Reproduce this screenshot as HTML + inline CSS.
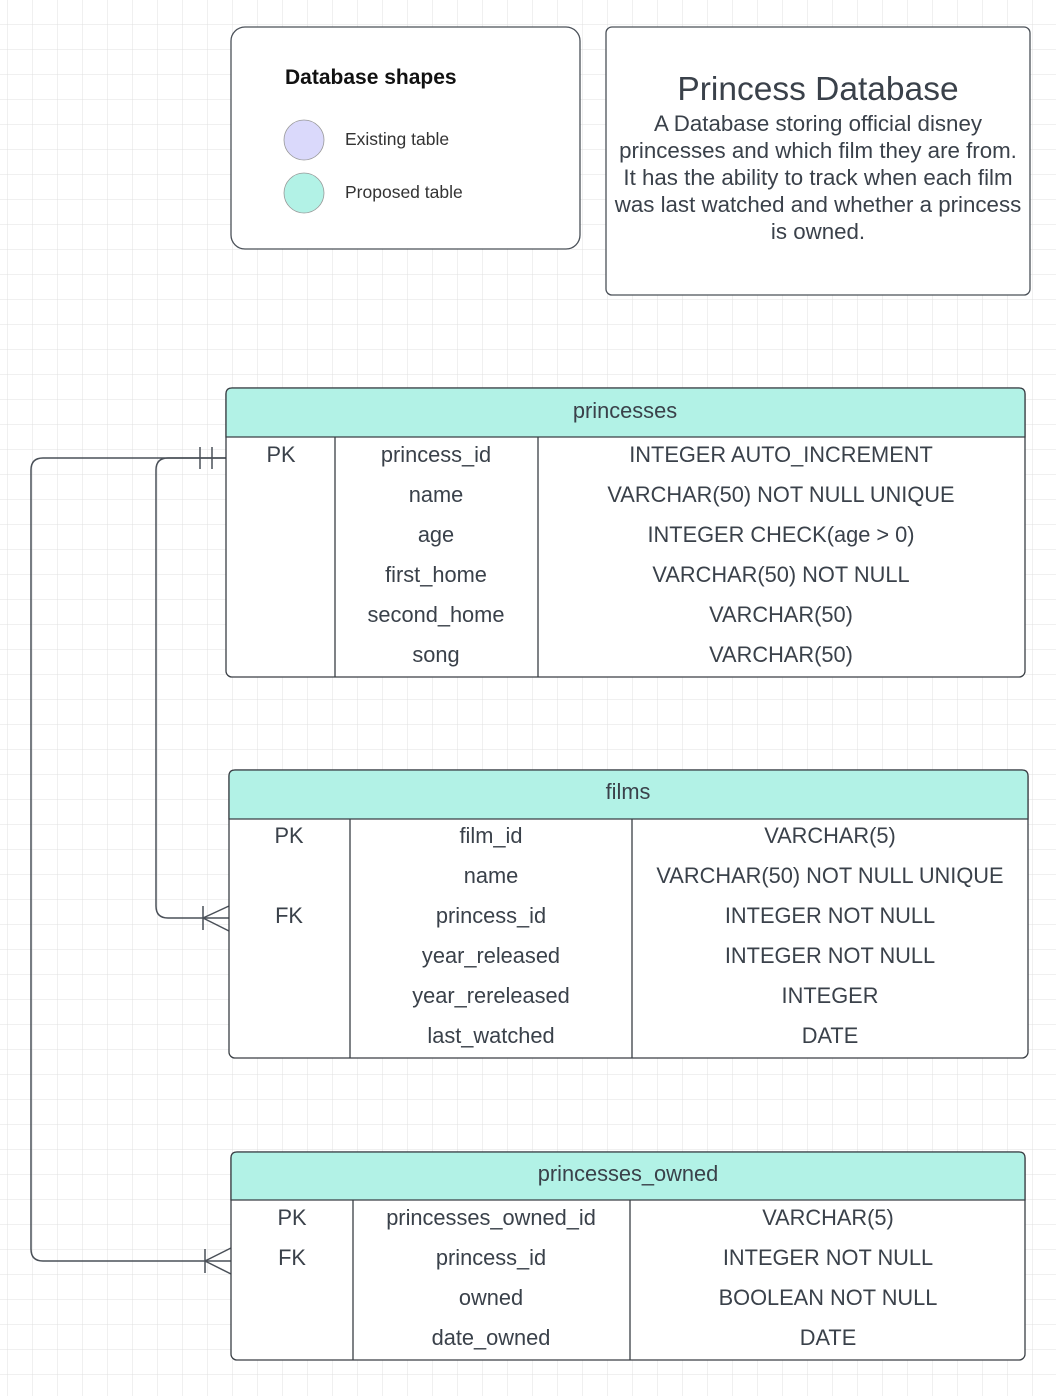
<!DOCTYPE html>
<html><head><meta charset="utf-8"><style>
html,body{margin:0;padding:0;background:#fff;}
svg{display:block;font-family:"Liberation Sans",Arial,sans-serif;}
</style></head><body>
<svg width="1056" height="1396" viewBox="0 0 1056 1396" xmlns="http://www.w3.org/2000/svg">
<defs>
<pattern id="g" x="7" y="24" width="25" height="25" patternUnits="userSpaceOnUse">
<path d="M0 0H25M0 0V25" stroke="#e0e0e0" stroke-width="1" fill="none"/>
</pattern>
</defs>
<rect width="1056" height="1396" fill="url(#g)"/>

<rect x="231" y="27" width="349" height="222" rx="14" fill="#fff" stroke="#4a5058" stroke-width="1.3"/>
<text x="285" y="84" font-size="21" font-weight="bold" fill="#111">Database shapes</text>
<circle cx="304" cy="140" r="20" fill="#dad9fb" stroke="#999" stroke-width="0.8"/>
<circle cx="304" cy="193" r="20" fill="#b2f2e6" stroke="#999" stroke-width="0.8"/>
<text x="345" y="145" font-size="17.5" fill="#333">Existing table</text>
<text x="345" y="198" font-size="17.5" fill="#333">Proposed table</text>

<rect x="606" y="27" width="424" height="268" rx="6" fill="#fff" stroke="#4a5058" stroke-width="1.3"/>
<g fill="#3a414a" text-anchor="middle">
<text x="818" y="100" font-size="33.5">Princess Database</text>
<text x="818" y="131" font-size="22.3">A Database storing official disney</text>
<text x="818" y="158" font-size="22.3">princesses and which film they are from.</text>
<text x="818" y="185" font-size="22.3">It has the ability to track when each film</text>
<text x="818" y="212" font-size="22.3">was last watched and whether a princess</text>
<text x="818" y="239" font-size="22.3">is owned.</text>
</g>

<g fill="none" stroke="#4a5058" stroke-width="1.5">
<path d="M226 458H43Q31 458 31 470V1249Q31 1261 43 1261H231"/>
<path d="M226 458H168Q156 458 156 470V906Q156 918 168 918H229"/>
<path d="M200 447V469M212 447V469"/>
<path d="M203 906V930M203 918L229 906M203 918L229 931"/>
<path d="M205 1249V1273M205 1261L231 1248M205 1261L231 1274"/>
</g>

<g font-size="21.8" fill="#3a414a" text-anchor="middle">
<rect x="226" y="388" width="799" height="289" rx="6" fill="#fff" stroke="#3a3f45" stroke-width="1.3"/>
<path d="M226 437V394Q226 388 232 388H1019Q1025 388 1025 394V437Z" fill="#b2f2e6" stroke="#3a3f45" stroke-width="1.3"/>
<path d="M335 437V677M538 437V677" stroke="#3a3f45" stroke-width="1.3"/>
<text x="625" y="418">princesses</text>
<text x="281" y="462">PK</text>
<text x="436" y="462">princess_id</text>
<text x="436" y="502">name</text>
<text x="436" y="542">age</text>
<text x="436" y="582">first_home</text>
<text x="436" y="622">second_home</text>
<text x="436" y="662">song</text>
<text x="781" y="462">INTEGER AUTO_INCREMENT</text>
<text x="781" y="502">VARCHAR(50) NOT NULL UNIQUE</text>
<text x="781" y="542">INTEGER CHECK(age &gt; 0)</text>
<text x="781" y="582">VARCHAR(50) NOT NULL</text>
<text x="781" y="622">VARCHAR(50)</text>
<text x="781" y="662">VARCHAR(50)</text>

<rect x="229" y="770" width="799" height="288" rx="6" fill="#fff" stroke="#3a3f45" stroke-width="1.3"/>
<path d="M229 819V776Q229 770 235 770H1022Q1028 770 1028 776V819Z" fill="#b2f2e6" stroke="#3a3f45" stroke-width="1.3"/>
<path d="M350 819V1058M632 819V1058" stroke="#3a3f45" stroke-width="1.3"/>
<text x="628" y="799">films</text>
<text x="289" y="843">PK</text>
<text x="289" y="923">FK</text>
<text x="491" y="843">film_id</text>
<text x="491" y="883">name</text>
<text x="491" y="923">princess_id</text>
<text x="491" y="963">year_released</text>
<text x="491" y="1003">year_rereleased</text>
<text x="491" y="1043">last_watched</text>
<text x="830" y="843">VARCHAR(5)</text>
<text x="830" y="883">VARCHAR(50) NOT NULL UNIQUE</text>
<text x="830" y="923">INTEGER NOT NULL</text>
<text x="830" y="963">INTEGER NOT NULL</text>
<text x="830" y="1003">INTEGER</text>
<text x="830" y="1043">DATE</text>

<rect x="231" y="1152" width="794" height="208" rx="6" fill="#fff" stroke="#3a3f45" stroke-width="1.3"/>
<path d="M231 1200V1158Q231 1152 237 1152H1019Q1025 1152 1025 1158V1200Z" fill="#b2f2e6" stroke="#3a3f45" stroke-width="1.3"/>
<path d="M353 1200V1360M630 1200V1360" stroke="#3a3f45" stroke-width="1.3"/>
<text x="628" y="1181">princesses_owned</text>
<text x="292" y="1225">PK</text>
<text x="292" y="1265">FK</text>
<text x="491" y="1225">princesses_owned_id</text>
<text x="491" y="1265">princess_id</text>
<text x="491" y="1305">owned</text>
<text x="491" y="1345">date_owned</text>
<text x="828" y="1225">VARCHAR(5)</text>
<text x="828" y="1265">INTEGER NOT NULL</text>
<text x="828" y="1305">BOOLEAN NOT NULL</text>
<text x="828" y="1345">DATE</text>
</g>
</svg>
</body></html>
